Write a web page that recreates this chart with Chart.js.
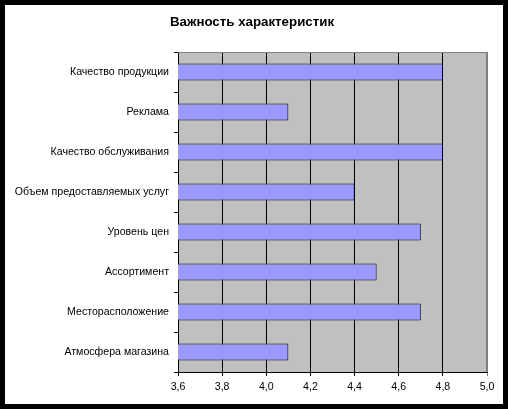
<!DOCTYPE html>
<html>
<head>
<meta charset="utf-8">
<script src="https://cdn.jsdelivr.net/npm/chart.js@4"></script>
<style>
  html, body { margin: 0; padding: 0; background: #fff; }
  #frame { width: 498px; height: 399px; border: 5px solid #000; background: #fff; }
</style>
</head>
<body>
<div id="frame"><canvas id="importanceBar" width="498" height="399"></canvas></div>
<script>
/*............................Важность характеристик.................................*/

const chartTitle = 'Важность характеристик';
const categories = ['Качество продукции', 'Реклама', 'Качество обслуживания', 'Объем предоставляемых услуг',
  'Уровень цен', 'Ассортимент', 'Месторасположение', 'Атмосфера магазина'];
const scores = [4.8, 4.1, 4.8, 4.4, 4.7, 4.5, 4.7, 4.1];
const xTicks = [3.6, 3.8, 4.0, 4.2, 4.4, 4.6, 4.8, 5.0];

Chart.defaults.font.family = '"Liberation Sans", Arial, sans-serif';
Chart.defaults.color = '#000';

// gray plot background, gray frame on top/right, and the title
const plotBg = {
  id: 'plotBg',
  beforeDraw(chart) {
    const { ctx, chartArea: a } = chart;
    ctx.save();
    ctx.fillStyle = '#c0c0c0';
    ctx.fillRect(a.left, a.top, a.right - a.left, a.bottom - a.top);
    ctx.restore();
  },
  afterDatasetsDraw(chart) {
    const { ctx, chartArea: a } = chart;
    ctx.save();
    ctx.strokeStyle = '#808080';
    ctx.lineWidth = 1;
    ctx.beginPath();
    ctx.moveTo(a.left, a.top + 0.5);
    ctx.lineTo(a.right - 0.5, a.top + 0.5);
    ctx.lineTo(a.right - 0.5, a.bottom);
    ctx.stroke();
    ctx.restore();
  },
  afterDraw(chart) {
    const ctx = chart.ctx;
    ctx.save();
    ctx.font = 'bold 13.3px "Liberation Sans", Arial, sans-serif';
    ctx.fillStyle = '#000';
    ctx.textAlign = 'center';
    ctx.textBaseline = 'middle';
    ctx.fillText(chartTitle, 247, 17);
    ctx.restore();
  }
};

const data = {
  labels: categories,
  datasets: [{
    label: 'Важность',
    data: scores,
    backgroundColor: '#9999ff',
    borderColor: '#000',
    borderWidth: 1,
    borderSkipped: false,
    categoryPercentage: 1,
    barPercentage: 0.42,
  }]
};

const config = {
  type: 'bar',
  data: data,
  plugins: [plotBg],
  options: {
    indexAxis: 'y',
    responsive: false,
    animation: false,
    layout: { padding: { left: 0, right: 16, top: 47, bottom: 0 } },
    plugins: {
      legend: { display: false },
      tooltip: { enabled: false },
      title: { display: false }
    },
    scales: {
      x: {
        min: xTicks[0],
        max: xTicks[xTicks.length - 1],
        afterBuildTicks: (scale) => { scale.ticks = xTicks.map(v => ({ value: v })); },
        afterFit: (scale) => { scale.height = 32; },
        grid: {
          color: (c) => (c.tick && c.tick.value === 5.0 ? '#808080' : '#000'),
          lineWidth: 1,
          tickLength: 4
        },
        border: { color: '#000' },
        ticks: {
          font: { size: 10.6 },
          color: '#000',
          padding: 5,
          callback: (v) => Number(v).toFixed(1).replace('.', ',')
        }
      },
      y: {
        afterFit: (scale) => { scale.width = 173; },
        grid: {
          drawOnChartArea: false,
          color: '#000',
          tickLength: 4
        },
        border: { color: '#000' },
        ticks: {
          font: { size: 10.6 },
          color: '#000',
          padding: 5
        }
      }
    }
  }
};

const ctx = document.getElementById('importanceBar').getContext('2d');
const importanceBar = new Chart(ctx, config);

/*............................Важность характеристик.................................*/
</script>
</body>
</html>
